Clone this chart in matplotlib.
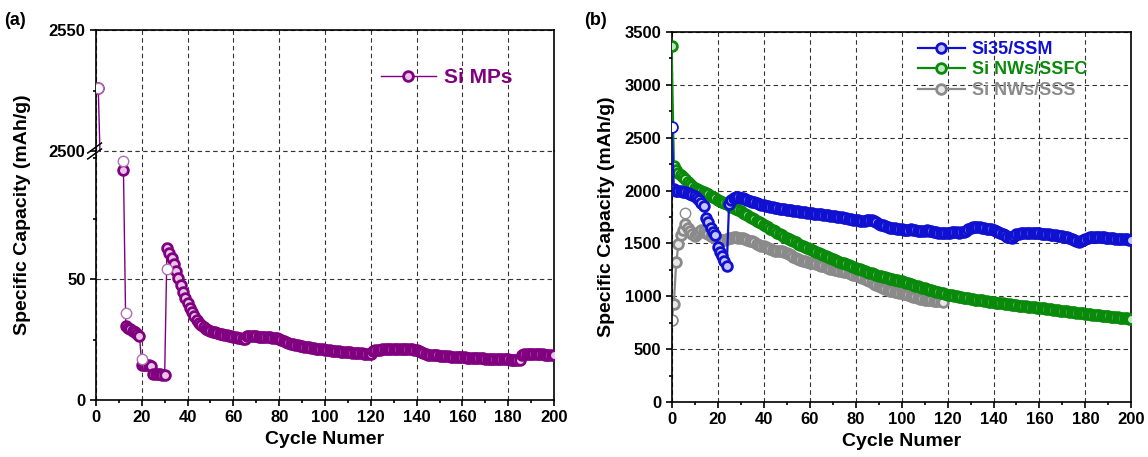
import numpy as np
import matplotlib

matplotlib.use("Agg")
import matplotlib.pyplot as plt  # noqa: E402
from matplotlib.ticker import MultipleLocator  # noqa: E402

plt.rcParams["font.family"] = ["Liberation Sans", "DejaVu Sans"]
plt.rcParams["font.weight"] = "bold"

nan = np.nan

# ---- (a) Si MPs, cycles 1..200 ----
mp_cycle = list(range(1, 201))
mp_cap = [
    2526, 2490, nan, nan, nan, nan, nan, nan, nan, nan,
    nan, 95.0, 30.5, 29.9, 29.3, 28.6, 27.9, 27.2, 26.4, 14.6,
    14.5, 14.4, 14.3, 14.2, 10.7, 10.6, 10.6, 10.6, 10.5, 10.5,
    62.7, 60.8, 58.6, 56.0, 53.2, 50.3, 47.5, 44.8, 42.3, 40.0,
    38.0, 36.2, 34.6, 33.2, 32.0, 31.0, 30.2, 29.5, 29.0, 28.5,
    28.2, 27.9, 27.6, 27.3, 27.1, 26.9, 26.7, 26.5, 26.3, 26.1,
    25.9, 25.7, 25.5, 25.3, 25.1, 26.3, 26.4, 26.4, 26.3, 26.3,
    26.2, 26.2, 26.1, 26.1, 26.0, 25.9, 25.8, 25.7, 25.6, 25.4,
    25.0, 24.5, 24.0, 23.6, 23.3, 23.0, 22.8, 22.6, 22.4, 22.2,
    22.0, 21.8, 21.7, 21.5, 21.4, 21.2, 21.1, 21.0, 20.9, 20.7,
    20.6, 20.5, 20.4, 20.3, 20.2, 20.1, 20.0, 19.9, 19.9, 19.8,
    19.7, 19.6, 19.5, 19.5, 19.4, 19.3, 19.2, 19.2, 19.1, 19.0,
    20.4, 20.7, 20.8, 20.8, 20.9, 20.9, 20.9, 21.0, 21.0, 21.0,
    21.0, 21.0, 21.0, 21.0, 20.9, 20.9, 20.9, 20.9, 20.8, 20.8,
    20.4, 19.9, 19.4, 19.0, 18.8, 18.7, 18.6, 18.5, 18.4, 18.3,
    18.2, 18.1, 18.0, 18.0, 17.9, 17.9, 17.8, 17.8, 17.7, 17.6,
    17.6, 17.5, 17.5, 17.4, 17.4, 17.3, 17.3, 17.2, 17.2, 17.1,
    17.1, 17.0, 17.0, 17.0, 16.9, 16.9, 16.9, 16.8, 16.8, 16.8,
    16.7, 16.7, 16.6, 16.6, 16.5, 18.6, 18.9, 19.0, 19.0, 19.0,
    19.0, 19.0, 18.9, 18.9, 18.9, 18.8, 18.8, 18.8, 18.7, 18.7,
]
# first point of each stage (open markers)
mp_open_cycle = [1, 12, 13, 20, 31]
mp_open_cap = [2526, 98.8, 36.0, 16.8, 54.0]

# ---- (b) cycles 0..200 ----
b_cycle = list(range(0, 201))
si35_ssm = [
    2600, 2010, 2000, 1995, 1992, 1988, 1984, 1978, 1970, 1962,
    1950, 1932, 1910, 1885, 1855, 1745, 1700, 1650, 1610, 1580,
    1470, 1420, 1380, 1335, 1290, 1870, 1915, 1930, 1935, 1935,
    1930, 1925, 1918, 1910, 1902, 1895, 1888, 1880, 1874, 1868,
    1862, 1857, 1852, 1847, 1842, 1838, 1834, 1830, 1826, 1822,
    1818, 1815, 1812, 1808, 1805, 1802, 1799, 1796, 1793, 1790,
    1787, 1785, 1782, 1780, 1778, 1775, 1773, 1770, 1767, 1764,
    1762, 1758, 1754, 1750, 1746, 1742, 1738, 1734, 1730, 1726,
    1722, 1718, 1714, 1712, 1715, 1720, 1724, 1722, 1712, 1700,
    1688, 1678, 1670, 1662, 1656, 1650, 1646, 1642, 1638, 1635,
    1632, 1630, 1628, 1630, 1632, 1630, 1626, 1622, 1620, 1620,
    1622, 1624, 1620, 1615, 1610, 1606, 1603, 1600, 1598, 1598,
    1600, 1602, 1604, 1605, 1604, 1602, 1604, 1610, 1620, 1635,
    1648, 1655, 1658, 1658, 1655, 1650, 1645, 1640, 1636, 1632,
    1628, 1622, 1612, 1600, 1588, 1575, 1565, 1558, 1555, 1568,
    1585, 1592, 1595, 1596, 1597, 1598, 1598, 1597, 1596, 1595,
    1594, 1592, 1590, 1588, 1586, 1582, 1578, 1575, 1572, 1570,
    1568, 1565, 1560, 1552, 1540, 1528, 1520, 1516, 1520, 1532,
    1545, 1552, 1558, 1562, 1565, 1563, 1560, 1558, 1556, 1555,
    1553, 1550, 1548, 1545, 1543, 1541, 1540, 1538, 1537, 1536,
    1535,
]
sinw_ssfc = [
    3370, 2230, 2195, 2170, 2150, 2125, 2105, 2085, 2065, 2045,
    2025, 2015, 2005, 1995, 1985, 1975, 1965, 1952, 1940, 1926,
    1912, 1902, 1892, 1881, 1870, 1859, 1848, 1837, 1826, 1814,
    1803, 1791, 1779, 1766, 1754, 1741, 1729, 1716, 1703, 1690,
    1678, 1665, 1653, 1640, 1628, 1615, 1603, 1590, 1578, 1565,
    1553, 1542, 1531, 1520, 1509, 1498, 1487, 1476, 1465, 1454,
    1444, 1435, 1425, 1416, 1406, 1397, 1388, 1378, 1369, 1359,
    1350, 1342, 1334, 1326, 1318, 1310, 1302, 1294, 1286, 1278,
    1270, 1262, 1254, 1246, 1239, 1231, 1224, 1216, 1209, 1202,
    1195, 1189, 1183, 1178, 1172, 1167, 1161, 1156, 1150, 1145,
    1141, 1134, 1128, 1121, 1114, 1108, 1101, 1094, 1088, 1081,
    1075, 1069, 1063, 1057, 1051, 1045, 1039, 1033, 1027, 1021,
    1016, 1012, 1008, 1004, 1000, 996, 991, 987, 983, 979,
    975, 972, 969, 966, 963, 960, 956, 953, 950, 947,
    944, 941, 938, 935, 932, 929, 926, 923, 920, 917,
    915, 912, 910, 907, 905, 903, 900, 898, 895, 893,
    891, 888, 885, 882, 879, 877, 874, 871, 868, 865,
    862, 859, 856, 854, 851, 848, 845, 842, 840, 837,
    834, 832, 829, 827, 824, 822, 819, 817, 815, 812,
    810, 808, 805, 803, 801, 798, 796, 794, 791, 789,
    787,
]
sinw_sss = [
    772, 930, 1320, 1490, 1580, 1630, 1680, 1650, 1615, 1590,
    1572, 1590, 1612, 1630, 1615, 1598, 1585, 1572, 1560, 1548,
    1537, 1532, 1530, 1534, 1540, 1548, 1555, 1558, 1556, 1554,
    1553, 1548, 1540, 1532, 1526, 1522, 1510, 1498, 1488, 1480,
    1475, 1468, 1458, 1446, 1435, 1428, 1430, 1432, 1428, 1420,
    1412, 1400, 1388, 1375, 1362, 1350, 1342, 1336, 1330, 1324,
    1319, 1315, 1310, 1304, 1297, 1290, 1282, 1274, 1266, 1260,
    1256, 1252, 1248, 1243, 1237, 1231, 1225, 1218, 1211, 1205,
    1200, 1192, 1183, 1173, 1163, 1153, 1142, 1131, 1120, 1110,
    1100, 1090, 1080, 1070, 1061, 1053, 1048, 1043, 1039, 1035,
    1031, 1025, 1018, 1011, 1004, 997, 990, 984, 978, 973,
    969, 966, 963, 960, 958, 956, 954, 952, 950,
]
sss_open_cycle = [0, 6]
sss_open_cap = [772, 1790]

PURPLE = "#800080"
BLUE = "#1010d0"
GREEN = "#0a8a0a"
GRAY = "#8a8a8a"
GRID = dict(color="#333333", linestyle=(0, (4, 3)), linewidth=0.8)
MARK = dict(marker="o", ms=7, mew=2.0)

fig = plt.figure(figsize=(11.48, 4.57), dpi=100)


def style_axis(ax, size=12):
    ax.tick_params(which="both", direction="out", labelsize=size, width=1.2)
    ax.tick_params(which="major", length=4)
    ax.tick_params(which="minor", length=2.5)
    for sp in ax.spines.values():
        sp.set_linewidth(1.2)


# ---------------- panel (a): broken y axis ----------------
ax_top = fig.add_axes([0.0836, 0.6696, 0.399, 0.2647])
ax_bot = fig.add_axes([0.0836, 0.1247, 0.399, 0.5449])

for ax in (ax_top, ax_bot):
    ax.plot(mp_cycle, mp_cap, color=PURPLE, lw=1.0, mec=PURPLE, mfc="#e8c4e8",
            zorder=3, **MARK)
    ax.plot(mp_open_cycle, mp_open_cap, ls="none", marker="o", ms=7.5,
            mec="#b070b0", mfc="white", mew=1.0, zorder=4)
    ax.set_xlim(0, 200)
    ax.xaxis.set_major_locator(MultipleLocator(20))
    ax.xaxis.set_minor_locator(MultipleLocator(10))
    ax.grid(True, which="major", **GRID)
    style_axis(ax)

ax_top.set_ylim(2500, 2550)
ax_top.set_yticks([2500, 2550])
ax_top.yaxis.set_minor_locator(MultipleLocator(25))
ax_top.spines["bottom"].set_visible(False)
ax_top.tick_params(axis="x", which="both", bottom=False, labelbottom=False)

ax_bot.set_ylim(0, 102.9)
ax_bot.set_yticks([0, 50])
ax_bot.yaxis.set_minor_locator(MultipleLocator(25))
ax_bot.spines["top"].set_visible(False)
# dashed line along the break (2500 level)
ax_bot.axhline(102.9, clip_on=False, zorder=5, **GRID)
ax_bot.set_xlabel("Cycle Numer", fontsize=14, fontweight="bold", labelpad=4)

# break marks on the left spine
for dy in (-0.012, 0.012):
    ax_bot.plot([-0.018, 0.012], [1 + dy - 0.02, 1 + dy + 0.02],
                transform=ax_bot.transAxes, color="black", lw=1.1, clip_on=False)

ax_top.legend(["Si MPs"], loc="upper right", bbox_to_anchor=(0.95, 0.84),
              frameon=False, handlelength=2.6, handletextpad=0.4,
              prop={"size": 15, "weight": "bold"}, labelcolor=[PURPLE])

fig.text(0.020, 0.53, "Specific Capacity (mAh/g)", rotation=90, ha="center",
         va="center", fontsize=14, fontweight="bold")
fig.text(0.004, 0.955, "(a)", fontsize=13, fontweight="bold", va="center")

# ---------------- panel (b) ----------------
axb = fig.add_axes([0.585, 0.1204, 0.4006, 0.8096])
axb.plot(b_cycle, si35_ssm, color=BLUE, lw=1.6, mec=BLUE, mfc="#c4c4ff",
         label="Si35/SSM", zorder=4, **MARK)
axb.plot(b_cycle, sinw_ssfc, color=GREEN, lw=1.6, mec=GREEN, mfc="#c2e8c2",
         label="Si NWs/SSFC", zorder=3, **MARK)
axb.plot(b_cycle[:len(sinw_sss)], sinw_sss, color=GRAY, lw=1.6, mec=GRAY,
         mfc="#e8e8e8", label="Si NWs/SSS", zorder=2, **MARK)
axb.plot(sss_open_cycle, sss_open_cap, ls="none", marker="o", ms=7.5, mec=GRAY,
         mfc="white", mew=1.0, zorder=2)
axb.plot(b_cycle[:1], si35_ssm[:1], ls="none", marker="o", ms=7.5, mec=BLUE,
         mfc="white", mew=1.0, zorder=5)

axb.set_xlim(0, 200)
axb.set_ylim(0, 3500)
axb.xaxis.set_major_locator(MultipleLocator(20))
axb.xaxis.set_minor_locator(MultipleLocator(10))
axb.yaxis.set_major_locator(MultipleLocator(500))
axb.yaxis.set_minor_locator(MultipleLocator(250))
axb.grid(True, which="major", **GRID)
style_axis(axb)
axb.set_xlabel("Cycle Numer", fontsize=14, fontweight="bold", labelpad=4)
axb.set_ylabel("Specific Capacity (mAh/g)", fontsize=14, fontweight="bold", labelpad=7)
axb.legend(loc="upper left", bbox_to_anchor=(0.5, 1.02), frameon=False,
           handlelength=2.6, handletextpad=0.4, labelspacing=0.2,
           prop={"size": 13, "weight": "bold"}, labelcolor=[BLUE, GREEN, GRAY])
fig.text(0.509, 0.955, "(b)", fontsize=13, fontweight="bold", va="center")

fig.savefig("out.png", dpi=100)
